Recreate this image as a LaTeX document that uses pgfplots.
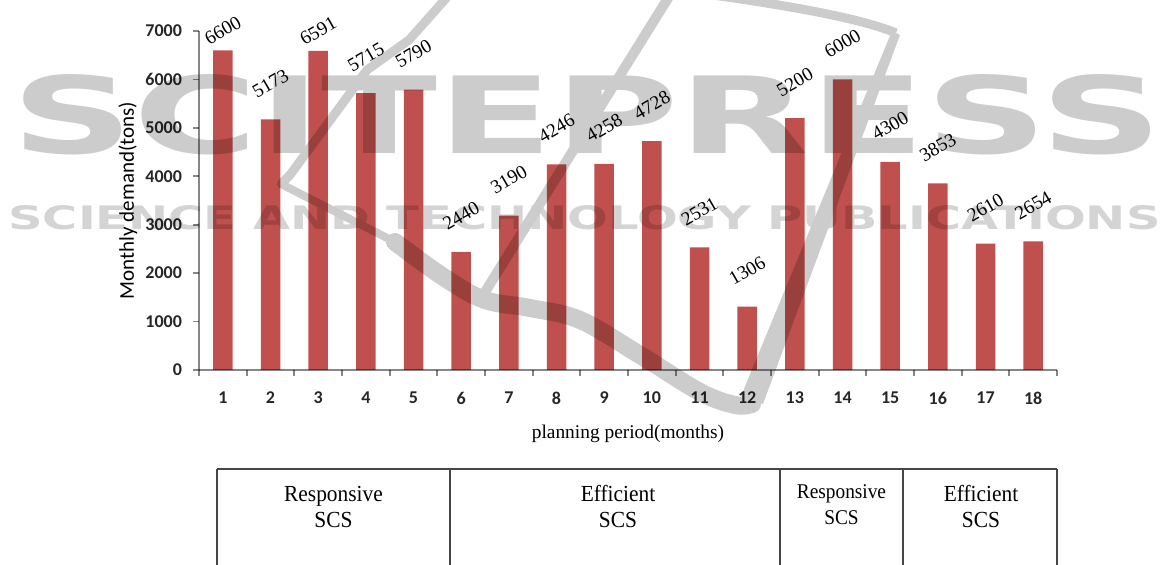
\documentclass[border=0pt]{standalone}
\usepackage{fontspec}
\setmainfont{Liberation Serif}
\newfontfamily\calibri{Carlito}
\newfontfamily\wmfont{DejaVu Sans Bold}
\usepackage{graphicx}
\usepackage{pgfplots}
\pgfplotsset{compat=1.18}
\usepackage{pgfplotstable}

\definecolor{barred}{RGB}{192,80,77}
\definecolor{axisgray}{RGB}{134,134,134}
\definecolor{wmgray}{RGB}{204,204,204}
\definecolor{wmlight}{RGB}{212,212,212}
\definecolor{rulegray}{RGB}{70,70,70}

% monthly demand (tons); lift = height of the value label above the bar (pt)
\pgfplotstableread{
month demand lift
1  6600 10
2  5173 18
3  6591 10
4  5715 18
5  5790 18
6  2440 18
7  3190 18
8  4246 18
9  4258 18
10 4728 18
11 2531 18
12 1306 18
13 5200 18
14 6000 18
15 4300 18
16 3853 18
17 2610 18
18 2654 18
}\demandtable

\begin{document}
\begin{tikzpicture}
\path[use as bounding box] (0,0) rectangle (582pt,-282.5pt);

% publisher watermark, drawn first; the chart is multiplied over it
\begin{scope}[x=0.5pt, y=-0.5pt]
  \node[anchor=north west, inner sep=0, text=wmgray] at (11,74)
    {\resizebox{575.5pt}{39.5pt}{\wmfont SCITEPRESS}};
  \node[anchor=north west, inner sep=0, text=wmlight] at (8,205)
    {\resizebox{576pt}{12pt}{\wmfont SCIENCE AND TECHNOLOGY PUBLICATIONS}};
  \draw[wmgray, line width=4.5pt, line join=round]
    (449,-5) -- (409,40) -- (367,70) -- (290,175) -- (281,184);
  \draw[wmgray, line width=5pt] (670,-5) -- (480,300);
  \draw[wmgray, line width=4pt, line cap=round] (281,184) -- (395,242);
  \draw[wmgray, line width=9pt, line cap=round] plot[smooth, tension=0.6] coordinates
    {(395,242) (445,278) (485,300) (530,308) (580,320)
     (640,355) (700,392) (735,405) (752,404)};
  \fill[wmgray] (763,404) -- (741,396) -- (892,31) -- (900,35) -- cycle;
  \draw[wmgray, line width=4.5pt] (896,33) .. controls (860,18) and (790,6) .. (713,-5);
\end{scope}

\begin{scope}[blend mode=multiply]
\begin{axis}[
  at={(99.5pt,-185pt)}, anchor=south west,
  scale only axis, width=429pt, height=169.5pt,
  xmin=0.5, xmax=18.5, ymin=0, ymax=7000,
  axis x line*=bottom, axis y line*=left,
  axis line style={axisgray, line width=0.9pt},
  xtick={1,...,18},
  minor xtick={0.5,1.5,...,18.5},
  ytick={0,1000,...,7000},
  tick align=outside,
  major tick length=3pt, minor tick length=3pt,
  tick style={axisgray, line width=0.9pt},
  major x tick style={draw=none},
  /pgf/number format/assume math mode=true,
  /pgf/number format/1000 sep={},
  ticklabel style={font=\calibri\bfseries\fontsize{9}{10}\selectfont, text=black!85},
  xticklabel style={yshift=-4.5pt},
  yticklabel style={xshift=-2pt},
  xlabel={planning period(months)},
  ylabel={Monthly demand(tons)},
  xlabel style={at={(axis description cs:0.5,-0.1888)}, anchor=center,
    font=\fontsize{9.7}{11}\selectfont},
  ylabel style={at={(axis description cs:-0.0828,0.5)}, anchor=center,
    font=\calibri\fontsize{10.5}{12}\selectfont},
  clip=false,
]
\addplot[ybar, bar width=9.75pt, fill=barred, draw=none,
  point meta=y,
  nodes near coords,
  visualization depends on={\thisrow{lift} \as \lift},
  every node near coord/.append style={yshift=\lift pt, rotate=30,
    anchor=center, font=\fontsize{9.6}{10}\selectfont, text=black},
] table[x=month, y=demand] {\demandtable};
\end{axis}
\end{scope}

% strategy table under the months
\begin{scope}[x=0.5pt, y=-0.5pt]
  \draw[rulegray, line width=1pt] (217,469) -- (1057,469);
  \foreach \xx in {217,450,780,903,1057}
    \draw[rulegray, line width=0.7pt] (\xx,469) -- (\xx,565);
  \def\cellA{\fontsize{11.5}{13}\selectfont}
  \def\cellB{\fontsize{10.5}{12}\selectfont}
  \node[anchor=base, inner sep=0, font=\cellA] at (333.5,502) {\scalebox{0.93}[1]{Responsive}};
  \node[anchor=base, inner sep=0, font=\cellA] at (333.5,528) {\scalebox{0.93}[1]{SCS}};
  \node[anchor=base, inner sep=0, font=\cellA] at (618,502) {\scalebox{0.93}[1]{Efficient}};
  \node[anchor=base, inner sep=0, font=\cellA] at (618,528) {\scalebox{0.93}[1]{SCS}};
  \node[anchor=base, inner sep=0, font=\cellB] at (841.5,499) {\scalebox{0.92}[1]{Responsive}};
  \node[anchor=base, inner sep=0, font=\cellB] at (841.5,525) {\scalebox{0.92}[1]{SCS}};
  \node[anchor=base, inner sep=0, font=\cellA] at (981,502) {\scalebox{0.93}[1]{Efficient}};
  \node[anchor=base, inner sep=0, font=\cellA] at (981,528) {\scalebox{0.93}[1]{SCS}};
\end{scope}
\end{tikzpicture}
\end{document}
